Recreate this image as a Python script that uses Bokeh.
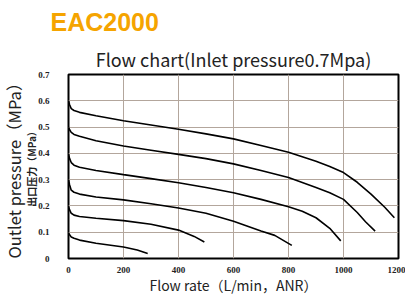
from bokeh.plotting import figure
from bokeh.models import Range1d, Title, FixedTicker
from bokeh.embed import file_html
from bokeh.resources import INLINE

# ---- data ----
x_ticks = [0, 200, 400, 600, 800, 1000, 1200]
y_ticks = [0, 0.1, 0.2, 0.3, 0.4, 0.5, 0.6, 0.7]
y_tick_labels = ["0", "0.1", "0.2", "0.3", "0.4", "0.5", "0.6", "0.7"]

flow_06 = [0, 4, 10, 20, 40, 100, 200, 300, 400, 500, 600, 700, 800, 900, 950, 1000, 1050, 1100, 1150, 1185]
pres_06 = [0.600, 0.585, 0.570, 0.563, 0.556, 0.543, 0.524, 0.508, 0.492, 0.474, 0.455, 0.430, 0.404, 0.370, 0.350, 0.327, 0.290, 0.245, 0.195, 0.155]

flow_05 = [0, 4, 10, 20, 40, 100, 200, 300, 400, 500, 600, 700, 800, 900, 950, 1000, 1050, 1080, 1115]
pres_05 = [0.500, 0.490, 0.480, 0.472, 0.465, 0.448, 0.428, 0.412, 0.396, 0.380, 0.360, 0.335, 0.308, 0.270, 0.250, 0.225, 0.175, 0.140, 0.104]

flow_04 = [0, 4, 10, 20, 40, 100, 200, 300, 400, 500, 600, 700, 800, 850, 900, 950, 990]
pres_04 = [0.397, 0.380, 0.365, 0.355, 0.347, 0.335, 0.319, 0.304, 0.288, 0.270, 0.250, 0.225, 0.197, 0.180, 0.155, 0.115, 0.067]

flow_03 = [0, 4, 10, 20, 40, 100, 200, 300, 400, 500, 600, 700, 750, 812]
pres_03 = [0.300, 0.280, 0.260, 0.252, 0.245, 0.234, 0.223, 0.208, 0.192, 0.172, 0.142, 0.105, 0.088, 0.050]

flow_02 = [0, 4, 10, 20, 40, 100, 200, 300, 400, 457, 494]
pres_02 = [0.198, 0.185, 0.172, 0.165, 0.160, 0.153, 0.144, 0.130, 0.108, 0.084, 0.063]

flow_01 = [0, 4, 10, 20, 40, 100, 200, 250, 288]
pres_01 = [0.097, 0.090, 0.082, 0.077, 0.070, 0.058, 0.044, 0.032, 0.019]

curves = [(flow_06, pres_06), (flow_05, pres_05), (flow_04, pres_04),
          (flow_03, pres_03), (flow_02, pres_02), (flow_01, pres_01)]

p = figure(width=405, height=297, output_backend="svg", toolbar_location=None,
           x_range=Range1d(0, 1200), y_range=Range1d(0, 0.7),
           min_border_left=68, min_border_right=7, min_border_top=74, min_border_bottom=39)
p.background_fill_color = "white"
p.border_fill_color = "white"
p.outline_line_color = "black"
p.outline_line_width = 2

for fx, py in curves:
    p.line(fx, py, line_color="black", line_width=1.6)

p.xaxis.ticker = FixedTicker(ticks=x_ticks)
p.yaxis.ticker = FixedTicker(ticks=y_ticks)
p.yaxis.major_label_overrides = {t: s for t, s in zip(y_ticks, y_tick_labels)}
for ax in (p.xaxis, p.yaxis):
    ax.axis_line_color = None
    ax.major_tick_line_color = None
    ax.minor_tick_line_color = None
    ax.major_label_text_font = "Liberation Serif"
    ax.major_label_text_font_style = "bold"
    ax.major_label_text_font_size = "9px"
    ax.major_label_text_color = "#222222"
p.xaxis.major_label_standoff = 2
p.yaxis.major_label_standoff = 13

p.xaxis.axis_label = "Flow rate（L/min，ANR）"
p.xaxis.axis_label_text_font = "Noto Sans CJK SC"
p.xaxis.axis_label_text_font_style = "normal"
p.xaxis.axis_label_text_font_size = "14px"
p.xaxis.axis_label_text_color = "#222222"
p.xaxis.axis_label_standoff = -1

p.xgrid.ticker = FixedTicker(ticks=x_ticks[1:-1])
p.ygrid.ticker = FixedTicker(ticks=y_ticks[1:-1])
p.grid.grid_line_color = "#b3a69c"
p.grid.grid_line_width = 1

# titles
p.add_layout(Title(text="Flow chart(Inlet pressure0.7Mpa)", text_font="Noto Sans CJK SC",
                   text_font_style="normal", text_font_size="18px", align="center",
                   text_color="#222222", standoff=6), "above")
p.add_layout(Title(text="EAC2000", text_font="Liberation Sans", text_font_style="bold",
                   text_font_size="25px", align="left", offset=-18, text_line_height=0.8,
                   text_color="#F5A400", standoff=10), "above")
p.add_layout(Title(text="出口压力（MPa）", text_font="Noto Sans CJK SC", text_font_style="bold",
                   text_font_size="10px", align="center", text_color="#222222",
                   standoff=-6), "left")
p.add_layout(Title(text="Outlet pressure（MPa）", text_font="Noto Sans CJK SC",
                   text_font_style="normal", text_font_size="16.5px", align="center",
                   text_color="#222222", standoff=-2), "left")

open("out.html", "w").write(file_html(p, INLINE))
